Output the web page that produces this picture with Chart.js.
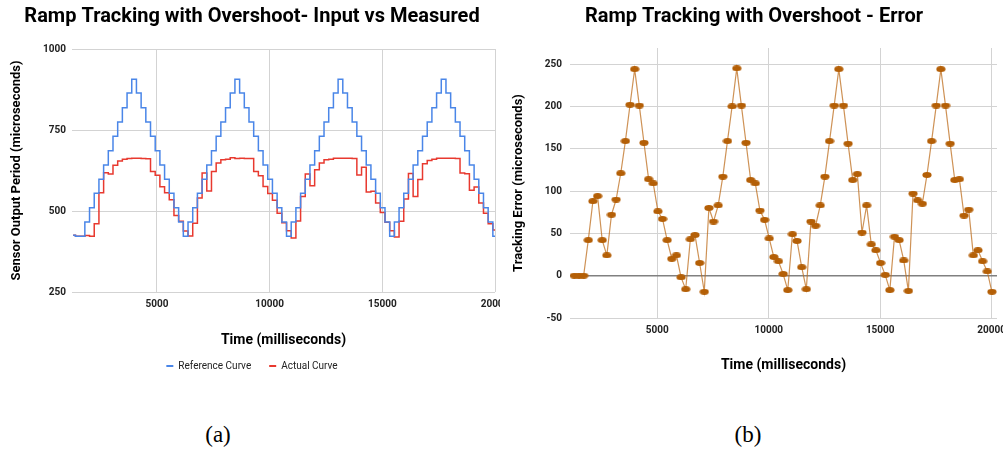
<!DOCTYPE html>
<html>
<head>
<meta charset="utf-8">
<script src="https://cdn.jsdelivr.net/npm/chart.js@4.4.0/dist/chart.umd.min.js"></script>
<style>
html, body { margin: 0; padding: 0; background: #fff; }
body { width: 1003px; height: 457px; position: relative; overflow: hidden; }
.panel { position: absolute; top: 0; height: 381px; overflow: hidden; }
#leftPanel { left: 0; width: 500px; }
#rightPanel { left: 500px; width: 503px; }
canvas { position: absolute; left: 0; top: 0; }
.caption { position: absolute; top: 422px; font-family: "Liberation Serif", serif; font-size: 23px; color: #000; transform: translateX(-50%); }
</style>
</head>
<body>
<div class="panel" id="leftPanel"><canvas id="inputChart" width="535" height="381"></canvas></div>
<div class="panel" id="rightPanel"><canvas id="errorChart" width="540" height="381"></canvas></div>
<div class="caption" style="left:218px">(a)</div>
<div class="caption" style="left:748px">(b)</div>

<script>
// sample times (ms)
const timeMs = [
    1280, 1488, 1696, 1904, 2112, 2321, 2529, 2737, 2945, 3153,
    3361, 3569, 3777, 3985, 4193, 4402, 4610, 4818, 5026, 5234,
    5442, 5650, 5858, 6066, 6274, 6483, 6691, 6899, 7107, 7315,
    7523, 7731, 7939, 8147, 8355, 8564, 8772, 8980, 9188, 9396,
    9604, 9812, 10020, 10228, 10436, 10645, 10853, 11061, 11269, 11477,
    11685, 11893, 12101, 12309, 12517, 12726, 12934, 13142, 13350, 13558,
    13766, 13974, 14182, 14390, 14598, 14807, 15015, 15223, 15431, 15639,
    15847, 16055, 16263, 16471, 16679, 16888, 17096, 17304, 17512, 17720,
    17928, 18136, 18344, 18552, 18760, 18969, 19177, 19385, 19593, 19801,
    20009
];

const referenceCurve = [
    425, 422, 422, 466, 510, 555, 598, 642, 686, 731,
    775, 819, 864, 907, 864, 819, 775, 731, 686, 642,
    598, 555, 510, 466, 422, 466, 510, 555, 598, 642,
    686, 731, 775, 819, 864, 907, 864, 819, 775, 731,
    686, 642, 598, 555, 510, 466, 422, 466, 510, 555,
    598, 642, 686, 731, 775, 819, 864, 907, 864, 819,
    775, 731, 686, 642, 598, 555, 510, 466, 422, 466,
    510, 555, 598, 642, 686, 731, 775, 819, 864, 907,
    864, 819, 775, 731, 686, 642, 598, 555, 510, 466,
    422
];

const actualCurve = [
    425, 422, 422, 424, 422, 461, 556, 618, 614, 641,
    654, 660, 662, 663, 663, 662, 661, 622, 610, 575,
    556, 535, 486, 468, 438, 423, 462, 540, 617, 562,
    622, 648, 658, 660, 664, 662, 663, 662, 662, 622,
    609, 576, 554, 533, 493, 464, 439, 417, 469, 545,
    614, 578, 627, 648, 658, 660, 663, 663, 663, 663,
    662, 611, 635, 559, 561, 525, 495, 465, 439, 420,
    468, 537, 616, 545, 597, 646, 656, 660, 663, 663,
    663, 663, 662, 617, 615, 564, 574, 525, 493, 461,
    441
];

const trackingError = [
    0, 0, 0, 42, 88, 94, 42, 24, 72, 90,
    121, 159, 202, 244, 201, 157, 114, 109, 76, 67,
    42, 20, 24, -2, -16, 43, 48, 15, -19, 80,
    64, 83, 117, 159, 200, 245, 201, 157, 113, 109,
    77, 66, 44, 22, 17, 2, -17, 49, 41, 10,
    -16, 64, 59, 83, 117, 159, 201, 244, 201, 156,
    113, 120, 51, 83, 37, 30, 15, 1, -17, 46,
    42, 18, -18, 97, 89, 85, 119, 159, 201, 244,
    201, 156, 113, 114, 71, 78, 24, 30, 17, 5,
    -19
];

const timeTicks = [5000, 10000, 15000, 20000];
const periodTicks = [250, 500, 750, 1000];
const errorTicks = [-50, 0, 50, 100, 150, 200, 250];

const FONT = "Roboto";
const gridGray = "#d3d3d3";

function pts(ys) {
    return timeMs.map((t, i) => ({ x: t, y: ys[i] }));
}

function fixedTicks(list) {
    return axis => { axis.ticks = list.map(v => ({ value: v })); };
}

// little ellipse used as the point marker
function makeDot() {
    const c = document.createElement("canvas");
    c.width = 10;
    c.height = 6;
    const g = c.getContext("2d");
    g.fillStyle = "#b45f06";
    g.beginPath();
    g.ellipse(5, 3, 4.6, 2.9, 0, 0, Math.PI * 2);
    g.fill();
    return c;
}

const tickFont = { family: FONT, size: 10, weight: "bold" };
const axisTitleFont = { family: FONT, size: 14, weight: "bold" };
const chartTitleFont = { family: FONT, size: 20, weight: "bold" };

new Chart(document.getElementById("inputChart"), {
    type: "line",
    data: {
        datasets: [{
            label: "Reference Curve",
            data: pts(referenceCurve),
            borderColor: "#4a86e8",
            backgroundColor: "#4a86e8",
            borderWidth: 1.5,
            pointRadius: 0,
            stepped: "middle"
        }, {
            label: "Actual Curve",
            data: pts(actualCurve),
            borderColor: "#e8392f",
            backgroundColor: "#e8392f",
            borderWidth: 1.5,
            pointRadius: 0,
            stepped: "middle"
        }]
    },
    options: {
        responsive: false,
        animation: false,
        devicePixelRatio: 1,
        layout: { padding: { left: 9, right: 40, top: 0, bottom: 0 } },
        plugins: {
            title: {
                display: true,
                text: "Ramp Tracking with Overshoot- Input vs Measured",
                color: "#000",
                font: chartTitleFont,
                padding: { top: 5, bottom: 20 }
            },
            legend: {
                position: "bottom",
                labels: {
                    color: "#222",
                    font: { family: FONT, size: 10 },
                    boxWidth: 7,
                    boxHeight: 2,
                    padding: 18,
                    generateLabels: chart => {
                        const items = Chart.defaults.plugins.legend.labels.generateLabels(chart);
                        items.forEach(it => { it.lineWidth = 0; });
                        return items;
                    }
                }
            },
            tooltip: { enabled: false }
        },
        scales: {
            x: {
                type: "linear",
                min: 1230,
                max: 20000,
                afterBuildTicks: fixedTicks(timeTicks),
                afterFit: axis => { axis.height = 51; },
                grid: { color: gridGray, drawTicks: false },
                border: { display: false },
                ticks: { color: "#222", font: tickFont, padding: 6, callback: v => String(v) },
                title: {
                    display: true,
                    text: "Time (milliseconds)",
                    color: "#000",
                    font: axisTitleFont,
                    padding: { top: 0, bottom: -5.4 }
                }
            },
            y: {
                min: 250,
                max: 1000,
                afterBuildTicks: fixedTicks(periodTicks),
                afterFit: axis => { axis.width = 63; },
                grid: { color: gridGray, drawTicks: false },
                border: { display: false },
                ticks: { color: "#222", font: tickFont, padding: 6, callback: v => String(v) },
                title: {
                    display: true,
                    text: "Sensor Output Period (microseconds)",
                    color: "#000",
                    font: { family: FONT, size: 13, weight: "bold" },
                    padding: { top: 0, bottom: 0 }
                }
            }
        }
    }
});

new Chart(document.getElementById("errorChart"), {
    type: "line",
    data: {
        datasets: [{
            label: "Tracking Error",
            data: pts(trackingError),
            borderColor: "rgba(190, 110, 30, 0.75)",
            backgroundColor: "#b45f06",
            borderWidth: 1.2,
            pointStyle: makeDot(),
            pointRadius: 4
        }]
    },
    options: {
        responsive: false,
        animation: false,
        devicePixelRatio: 1,
        layout: { padding: { left: 11, right: 43, top: 0, bottom: 0 } },
        plugins: {
            title: {
                display: true,
                text: "Ramp Tracking with Overshoot - Error",
                color: "#000",
                font: chartTitleFont,
                padding: { top: 5, bottom: 19 }
            },
            legend: { display: false },
            tooltip: { enabled: false }
        },
        scales: {
            x: {
                type: "linear",
                min: 1084,
                max: 20238,
                afterBuildTicks: fixedTicks(timeTicks),
                afterFit: axis => { axis.height = 63; },
                grid: { color: gridGray, drawTicks: false },
                border: { display: false },
                ticks: { color: "#222", font: tickFont, padding: 6, callback: v => String(v) },
                title: {
                    display: true,
                    text: "Time (milliseconds)",
                    color: "#000",
                    font: axisTitleFont,
                    padding: { top: 0, bottom: 7.6 }
                }
            },
            y: {
                min: -50,
                max: 269,
                afterBuildTicks: fixedTicks(errorTicks),
                afterFit: axis => { axis.width = 59; },
                grid: {
                    drawTicks: false,
                    color: c => c.tick && c.tick.value === 0 ? "#808080" : gridGray,
                    lineWidth: c => c.tick && c.tick.value === 0 ? 1.6 : 1
                },
                border: { display: false },
                ticks: { color: "#222", font: tickFont, padding: 8, callback: v => String(v) },
                title: {
                    display: true,
                    text: "Tracking Error (microseconds)",
                    color: "#000",
                    font: { family: FONT, size: 13, weight: "bold" },
                    padding: { top: 0, bottom: 0 }
                }
            }
        }
    }
});
</script>
</body>
</html>
